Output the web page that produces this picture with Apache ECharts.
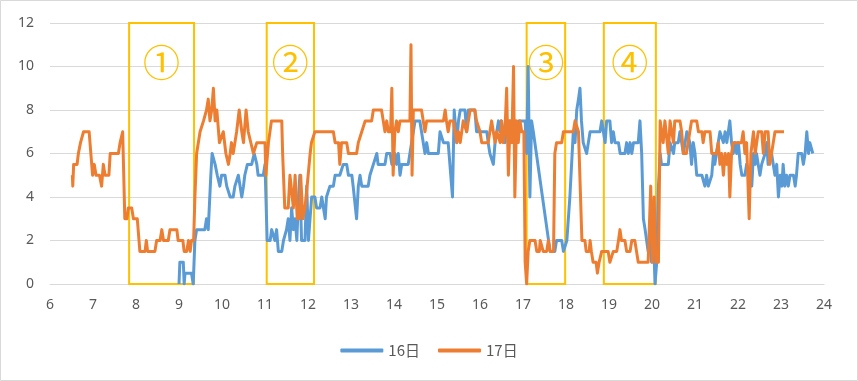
<!DOCTYPE html>
<html>
<head>
<meta charset="utf-8">
<script src="https://cdn.jsdelivr.net/npm/echarts@6/dist/echarts.min.js"></script>
<style>
html,body{margin:0;padding:0;background:#fff;}
#c{width:858px;height:381px;}
</style>
</head>
<body>
<div id="c"></div>
<script>
// ---- data ----
const seriesNames = ['16日', '17日'];

const hours16 = [9.0,9.02,9.1,9.12,9.14,9.29,9.33,9.37,9.41,9.6,9.64,9.68,9.71,9.74,9.77,9.8,9.84,9.89,9.95,9.99,10.07,10.11,10.19,10.26,10.3,10.38,10.42,10.46,10.5,10.53,10.59,10.69,10.75,10.81,10.84,10.96,11.0,11.03,11.05,11.12,11.155,11.23,11.27,11.31,11.39,11.43,11.47,11.5,11.54,11.58,11.62,11.66,11.7,11.74,11.78,11.81,11.85,11.93,11.97,12.01,12.05,12.085,12.16,12.2,12.28,12.32,12.4,12.43,12.51,12.59,12.63,12.74,12.82,12.9,12.94,13.02,13.05,13.13,13.17,13.21,13.25,13.4,13.44,13.52,13.6,13.63,13.79,13.83,13.91,13.95,14.02,14.06,14.1,14.14,14.18,14.33,14.37,14.45,14.49,14.6,14.64,14.72,14.76,14.8,15.03,15.07,15.15,15.26,15.3,15.36,15.4,15.46,15.5,15.54,15.65,15.69,15.73,15.88,15.92,16.16,16.19,16.23,16.27,16.31,16.35,16.39,16.43,16.47,16.5,16.58,16.62,16.8,16.85,16.9,17.05,17.085,17.12,17.16,17.2,17.24,17.63,17.74,17.78,17.9,17.94,17.98,18.02,18.09,18.17,18.21,18.25,18.29,18.325,18.36,18.4,18.44,18.48,18.52,18.56,18.79,18.83,18.87,18.91,18.945,19.02,19.06,19.1,19.14,19.22,19.26,19.37,19.41,19.45,19.49,19.53,19.57,19.68,19.72,19.76,19.8,19.84,19.875,19.91,19.95,19.99,20.03,20.07,20.11,20.15,20.19,20.22,20.38,20.42,20.46,20.5,20.53,20.61,20.65,20.69,20.73,20.77,20.81,20.88,20.92,20.96,21.0,21.04,21.16,21.19,21.23,21.27,21.31,21.35,21.39,21.43,21.46,21.5,21.54,21.58,21.66,21.7,21.74,21.81,21.85,21.89,21.93,21.97,22.01,22.05,22.09,22.16,22.2,22.24,22.28,22.32,22.36,22.4,22.43,22.47,22.51,22.55,22.59,22.63,22.67,22.7,22.78,22.86,22.9,22.94,22.98,23.02,23.05,23.09,23.13,23.17,23.21,23.29,23.33,23.36,23.4,23.48,23.52,23.56,23.6,23.64,23.67,23.71,23.74];
const values16 = [0,1,1,0,0.5,0.5,0,2,2.5,2.5,3,2.5,2.5,5,6,6,5.5,5,4.5,5,5,4.5,4,4,4.5,5,5,4,4.5,5,5.5,5.5,6,5.5,5,5,5.5,5.5,2,2,2.5,2,2.5,1.5,1.5,2,2,2.5,3,2,3.5,2.5,3,2,4,5,2,2,4.5,2,2,4,4,3.5,3.5,4,3,4,4.5,4.5,5,5,5.5,5.5,5,5,4.5,3,4.5,5,4.5,4.5,5,5.5,6,5.5,5.5,6,6,5.5,6,5.5,6,5,5.5,5.5,6,7,7.5,7.5,7,6,6.5,6,6,7,6.5,6.5,5.5,4,8,6.5,7.5,8,8,7,8,8,7,7,6.5,6,6,5.5,6.5,7,7.5,7,7.5,6.5,7.5,7.5,7,7.5,7.5,6,10,4,7.5,7,1.5,1.5,2,2,1.5,1.5,2,4,7,6.5,8,8.5,9,7.5,6.5,6.5,6,6.5,7,7,7.5,7,6.5,7.5,7.5,6.5,7,6.5,6.5,6,6,6.5,6,6.5,6,6.5,6.5,7.5,6,3,2.5,2.5,1.5,2,1,2.5,0,1,4.5,6,5.5,5.5,6.5,6.5,6,6.5,6.5,7,6.5,6,6.5,7,6.5,5.5,6.5,6,5,5,5,4.5,5,4.5,4.5,5,6,5.5,6,6,7,6.5,7,6.5,7.5,6.5,6,6.5,6,6.5,5.5,5,5,5.5,5.5,5,4.5,6,5.5,6,5.5,5,5.5,5.5,6,6.5,5.5,6,5,5.5,4,5,4.5,5.5,4.5,5,4.5,5,5,4.5,5,6,6,5.5,6,7,6,6.5,6.5,6];

const hours17 = [6.52,6.53,6.55,6.63,6.66,6.71,6.78,6.91,6.95,6.99,7.03,7.07,7.15,7.2,7.24,7.28,7.37,7.4,7.59,7.63,7.69,7.74,7.79,7.82,7.9,7.94,8.03,8.09,8.21,8.24,8.27,8.44,8.48,8.56,8.6,8.64,8.75,8.79,8.95,8.98,9.09,9.12,9.18,9.22,9.26,9.29,9.34,9.37,9.41,9.49,9.57,9.64,9.68,9.72,9.76,9.8,9.84,9.88,9.94,10.03,10.09,10.15,10.19,10.22,10.26,10.3,10.34,10.4,10.46,10.5,10.56,10.61,10.65,10.73,10.81,11.0,11.02,11.08,11.15,11.39,11.41,11.46,11.54,11.58,11.62,11.66,11.7,11.75,11.8,11.83,11.88,11.93,11.98,12.05,12.08,12.16,12.59,12.63,12.71,12.74,12.78,12.9,12.94,13.13,13.17,13.25,13.33,13.48,13.52,13.71,13.75,13.79,13.83,13.87,13.92,13.95,13.98,14.02,14.06,14.1,14.14,14.37,14.395,14.42,14.45,14.64,14.68,14.72,14.76,15.15,15.19,15.22,15.26,15.3,15.38,15.42,15.46,15.5,15.54,15.61,15.69,15.73,15.77,15.88,15.92,15.96,16.0,16.04,16.19,16.23,16.27,16.31,16.35,16.39,16.43,16.47,16.5,16.54,16.58,16.62,16.66,16.7,16.74,16.78,16.81,16.85,16.89,16.93,16.97,17.02,17.05,17.085,17.12,17.16,17.28,17.32,17.38,17.4,17.44,17.47,17.55,17.59,17.63,17.71,17.74,17.78,17.9,17.94,18.17,18.21,18.25,18.29,18.33,18.37,18.44,18.47,18.54,18.56,18.59,18.63,18.7,18.73,18.77,18.8,18.83,18.98,19.02,19.06,19.1,19.18,19.22,19.255,19.29,19.37,19.41,19.49,19.53,19.6,19.64,19.68,19.91,19.97,20.01,20.05,20.09,20.15,20.19,20.26,20.3,20.34,20.38,20.42,20.46,20.5,20.53,20.65,20.69,20.73,20.8,20.84,20.88,20.92,21.04,21.08,21.16,21.19,21.23,21.35,21.39,21.5,21.54,21.58,21.62,21.66,21.7,21.74,21.78,21.81,21.85,21.89,22.08,22.12,22.16,22.2,22.26,22.3,22.36,22.4,22.43,22.47,22.55,22.59,22.63,22.7,22.74,22.78,22.82,22.86,23.07];
const values17 = [5,4.5,5.5,5.5,6,6.5,7,7,6,5,5.5,5,5,4.5,5.5,5,5,6,6,6.5,7,3,3,3.5,3.5,3,3,1.5,1.5,2,1.5,1.5,2,2,2.5,2,2,2.5,2.5,2,2,1.5,1.5,2,1.5,2,2,4,6,7,7.5,8,8.5,7.5,8,9,7.5,8,6.5,7,6,5.5,6,6.5,6,6.5,7,8,7,6.5,8,7,7,6,6.5,6.5,5,6.5,7.5,7.5,6,3.5,3.5,5,5,3.5,5,3,3,5,3,3.5,4.5,6,6.5,7,7,6.5,6.5,5.5,6.5,6.5,6,6,6.5,7,7.5,7.5,8,8,7.5,7,7.5,7,7,9,5,7,7.5,7,7.5,7.5,11,5,8,8,7.5,7,7.5,7.5,8,7.5,7,7.5,7.5,7,6.5,7,6.5,7.5,7,7.5,8,8,7.5,7.5,7,6.5,6.5,7,7.5,7,6.5,7,7,6.5,7.5,6.5,7,9,5,7.5,6.5,10,4,7.5,6.5,7.5,7,7,1,0,1.5,2,2,1.5,1.5,2,2,1.5,1.5,2,1.5,1.5,6,6.5,6.5,7,7,7.5,7.5,7,7,2,2,1.5,1.5,2,1.5,1,1,0.5,1,1,1.5,1.5,1,1,1.5,1.5,2,2.5,2,2,1.5,1.5,2,2,1.5,1,1,4.5,1,4,1,1,7.5,6.5,7.5,7.5,6,7.5,7.5,6.5,7.5,7.5,7,6,6,6.5,7,7.5,7.5,7,7,6.5,7,7,6,6,6.5,5.5,6,5,6,5.5,6,4,6,6.5,6.5,7,6,6.5,3,6,7,6,6,7,7,6,7,7,5.5,5.5,6.5,7,7];

const boxStart = [7.84, 11.04, 17.085, 18.88];
const boxEnd = [9.35, 12.14, 17.98, 20.09];
const boxLabels = ['①', '②', '③', '④'];

const xTicks = {min: 6, max: 24, interval: 1};
const yTicks = {min: 0, max: 12, interval: 2};

// ---- build ----
const zip = (xs, ys) => xs.map((x, i) => [x, ys[i]]);
const colors = ['#5B9BD5', '#ED7D31'];
const boxes = boxStart.map((s, i) => [
  {xAxis: s, yAxis: yTicks.min, name: boxLabels[i]},
  {xAxis: boxEnd[i], yAxis: yTicks.max}
]);

const chart = echarts.init(document.getElementById('c'), null, {renderer: 'canvas'});
chart.setOption({
  animation: false,
  backgroundColor: '#ffffff',
  color: colors,
  textStyle: {fontFamily: 'Noto Sans, sans-serif'},
  graphic: [{
    type: 'rect', z: -10, silent: true,
    shape: {x: 0.5, y: 0.5, width: 857, height: 380},
    style: {fill: '#ffffff', stroke: '#D9D9D9', lineWidth: 1}
  }],
  grid: {left: 50, right: 34, top: 23, bottom: 97, containLabel: false},
  legend: {
    data: seriesNames,
    bottom: 18,
    left: 'center',
    itemWidth: 43,
    itemHeight: 4,
    icon: 'roundRect',
    itemGap: 18,
    textStyle: {color: '#595959', fontSize: 15, fontFamily: 'Noto Sans CJK JP'}
  },
  xAxis: {
    type: 'value', min: xTicks.min, max: xTicks.max, interval: xTicks.interval,
    axisLine: {show: true, lineStyle: {color: '#D9D9D9', width: 1}},
    axisTick: {show: false},
    splitLine: {show: false},
    axisLabel: {color: '#595959', fontSize: 14, margin: 14}
  },
  yAxis: {
    type: 'value', min: yTicks.min, max: yTicks.max, interval: yTicks.interval,
    axisLine: {show: false},
    axisTick: {show: false},
    splitLine: {lineStyle: {color: '#D9D9D9', width: 1}},
    axisLabel: {color: '#595959', fontSize: 14, margin: 16}
  },
  series: [
    {
      name: seriesNames[0], type: 'line', data: zip(hours16, values16),
      symbol: 'none', lineStyle: {width: 3, color: colors[0], join: 'round'}, z: 2
    },
    {
      name: seriesNames[1], type: 'line', data: zip(hours17, values17),
      symbol: 'none', lineStyle: {width: 3, color: colors[1], join: 'round'}, z: 3
    },
    {
      name: 'boxes', type: 'line', data: [], z: 5, silent: true,
      markArea: {
        silent: true,
        itemStyle: {color: 'rgba(0,0,0,0)', borderColor: '#FFC000', borderWidth: 2},
        label: {
          show: true, position: 'insideTop', distance: 22,
          color: '#FFC000', fontSize: 37, fontFamily: 'Noto Sans CJK JP'
        },
        data: boxes
      }
    }
  ]
});
</script>
</body>
</html>
